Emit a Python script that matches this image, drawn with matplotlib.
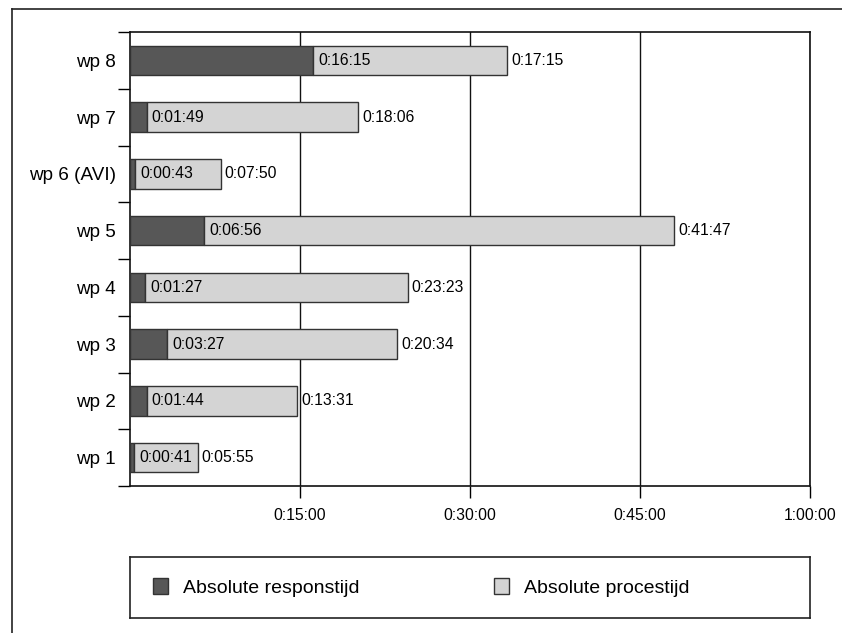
import matplotlib.pyplot as plt
from matplotlib.lines import Line2D
from matplotlib.ticker import FuncFormatter, FixedLocator

# ---------------------- data ---------------------- #
labels = ["wp 1", "wp 2", "wp 3", "wp 4", "wp 5", "wp 6 (AVI)", "wp 7", "wp 8"]
# printed labels
respons_txt = ["0:00:41", "0:01:44", "0:03:27", "0:01:27", "0:06:56", "0:00:43", "0:01:49", "0:16:15"]
proces_txt = ["0:05:55", "0:13:31", "0:20:34", "0:23:23", "0:41:47", "0:07:50", "0:18:06", "0:17:15"]
# bar lengths in minutes, as drawn in the picture
respons_min = [0.38, 1.47, 3.26, 1.32, 6.55, 0.47, 1.47, 16.15]
proces_min = [5.61, 13.27, 20.33, 23.20, 41.47, 7.52, 18.65, 17.13]
x_ticks = [15, 30, 45, 60]


def fmt_minutes(v, pos=None):
    total = int(round(v * 60))
    return f"{total // 3600}:{(total % 3600) // 60:02d}:{total % 60:02d}"


DARK = "#575757"
LIGHT = "#d4d4d4"
EDGE = "#333333"
FONT = "Liberation Sans"

plt.rcParams["font.family"] = [FONT, "DejaVu Sans"]

W, H = 842, 633
fig = plt.figure(figsize=(W / 100, H / 100), dpi=100)

# outer frame (top + left line)
fig.add_artist(Line2D([12 / W, 1], [1 - 9 / H, 1 - 9 / H], color="#222222", lw=1.2))
fig.add_artist(Line2D([12 / W, 12 / W], [0, 1 - 9 / H], color="#222222", lw=1.2))

ax = fig.add_axes([130 / W, 1 - 486 / H, 680 / W, 454 / H])

y = list(range(len(labels)))
b1 = ax.barh(y, respons_min, height=0.52, color=DARK, edgecolor=EDGE, linewidth=1,
             label="Absolute responstijd", zorder=3)
b2 = ax.barh(y, proces_min, left=respons_min, height=0.52, color=LIGHT, edgecolor=EDGE,
             linewidth=1, label="Absolute procestijd", zorder=3)

for yi, r, p, rt, pt in zip(y, respons_min, proces_min, respons_txt, proces_txt):
    ax.text(r + 0.45, yi, rt, va="center", ha="left", fontsize=11.3, zorder=4)
    ax.text(r + p + 0.35, yi, pt, va="center", ha="left", fontsize=11.3, zorder=4)

ax.set_xlim(0, 60)
ax.set_ylim(-0.5, len(labels) - 0.5)

ax.xaxis.set_major_locator(FixedLocator(x_ticks))
ax.xaxis.set_major_formatter(FuncFormatter(fmt_minutes))
ax.tick_params(axis="x", direction="out", length=8.5, width=1, pad=7, labelsize=11.3)
ax.grid(axis="x", color="#111111", linewidth=1, zorder=1)

ax.set_yticks(y)
ax.set_yticklabels(labels)
ax.set_yticks([i - 0.5 for i in range(len(labels) + 1)], minor=True)
ax.tick_params(axis="y", which="major", length=0, pad=10, labelsize=13.6)
ax.tick_params(axis="y", which="minor", direction="out", length=8.5, width=1)

for sp in ax.spines.values():
    sp.set_color("#111111")
    sp.set_linewidth(1.2)

# legend box
ax_leg = fig.add_axes([130 / W, 1 - 618 / H, 680 / W, 61 / H])
ax_leg.set_xticks([])
ax_leg.set_yticks([])
for sp in ax_leg.spines.values():
    sp.set_color("#222222")
    sp.set_linewidth(1.2)

leg1 = ax_leg.legend([b1], ["Absolute responstijd"], loc="center left",
                     bbox_to_anchor=(0.008, 0.5), frameon=False, fontsize=14,
                     handlelength=0.75, handleheight=0.9, handletextpad=0.8)
ax_leg.add_artist(leg1)
ax_leg.legend([b2], ["Absolute procestijd"], loc="center left",
              bbox_to_anchor=(0.51, 0.5), frameon=False, fontsize=14,
              handlelength=0.75, handleheight=0.9, handletextpad=0.8)

fig.savefig("out.png", dpi=100)
